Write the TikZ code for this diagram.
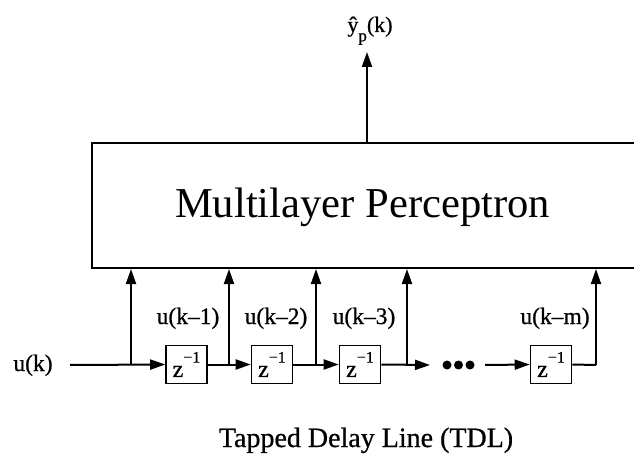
\documentclass[tikz,border=0pt]{standalone}
\usepackage{fontspec}
\setmainfont{Liberation Serif}
\newfontfamily\heavyserif{Liberation Serif}[FakeBold=0.7]
\usetikzlibrary{arrows.meta}
\newcommand{\zinv}{z\raisebox{0.6em}{\fontsize{16}{16}\selectfont −1}}
\begin{document}
\begin{tikzpicture}[x=1pt,y=-1pt,line width=2pt,
  sig/.style={-{Triangle[length=15pt,width=10pt]}},
  delaybox/.style={draw,minimum width=41pt,minimum height=38pt,inner sep=0pt,
    line width=1.6pt,font=\heavyserif\fontsize{24}{24}\selectfont},
  lbl/.style={inner sep=0pt,anchor=base,font=\heavyserif\fontsize{23.5}{23.5}\selectfont}]
\clip (0,0) rectangle (634,457);
% network block (runs past the right border)
\node[draw,minimum width=560pt,minimum height=125pt,inner sep=0pt] (mlp) at (372,205.5) {};
\node[inner sep=0pt,anchor=base,font=\fontsize{42.6}{42.6}\selectfont] (mlptext) at (362.5,218) {Multilayer Perceptron};
% output
\node[lbl,font=\heavyserif\fontsize{22}{22}\selectfont] (yhat) at (370,32)
  {ŷ\raisebox{-0.42em}{\fontsize{17}{17}\selectfont p}(k)};
\coordinate (o) at (367,143);
\coordinate (otip) at (367,52);
\draw[sig] (o) -- (otip);
% delay line
\node[lbl] (u) at (33,371) {u(k)};
\coordinate (in) at (70,365);
\node[delaybox] (d1) at (186.5,364.5) {\zinv};
\node[delaybox] (d2) at (272,364.5) {\zinv};
\node[delaybox] (d3) at (360,364.5) {\zinv};
\node[delaybox] (d4) at (551,364.5) {\zinv};
\coordinate (t1) at (131,365);
\coordinate (t2) at (229,365);
\coordinate (t3) at (316,365);
\coordinate (t4) at (407,365);
\coordinate (t5) at (596,365);
\coordinate (e3) at (430,365);
\coordinate (dotsend) at (485,365);
\draw[sig] (in) -- (d1.west);
\draw[sig] (d1.east) -- (d2.west);
\draw[sig] (d2.east) -- (d3.west);
\draw[sig] (d3.east) -- (e3);
\fill (447,365) circle (4.5) (458.5,365) circle (4.5) (470,365) circle (4.5);
\draw[sig] (dotsend) -- (d4.west);
\draw (d4.east) -- (t5);
% taps into the network
\foreach \t in {t1,t2,t3,t4,t5}
  \draw[sig] (\t) -- (\t |- mlp.south);
\node[lbl] (l1) at (188,324) {u(k–1)};
\node[lbl] (l2) at (276,324) {u(k–2)};
\node[lbl] (l3) at (364,324) {u(k–3)};
\node[lbl] (l4) at (555,324) {u(k–m)};
\node[inner sep=0pt,anchor=base,font=\heavyserif\fontsize{28}{28}\selectfont] (title) at (366,447) {Tapped Delay Line (TDL)};
\end{tikzpicture}
\end{document}
